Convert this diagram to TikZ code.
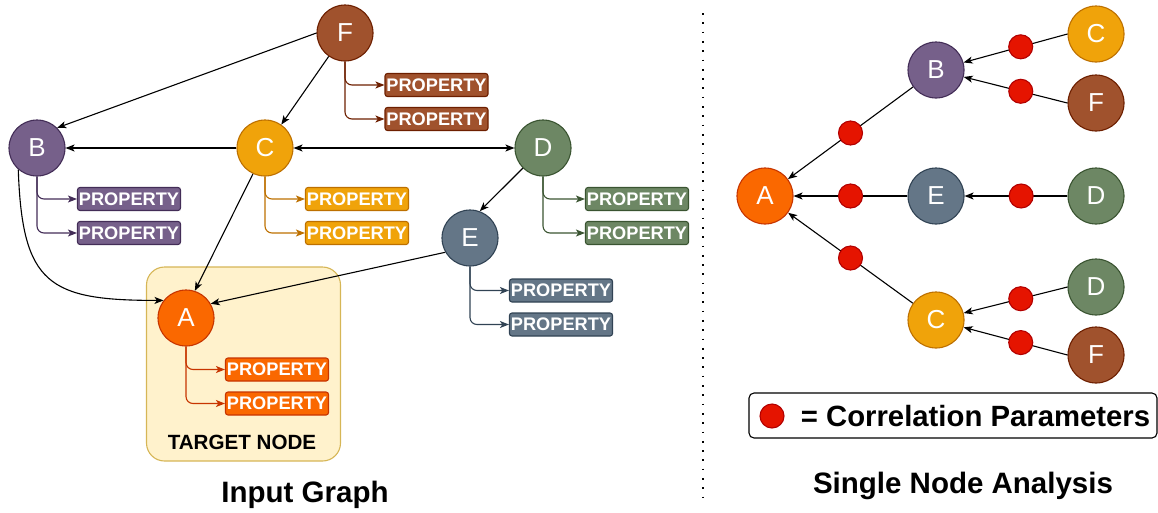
\documentclass[tikz,border=0pt]{standalone}
\usepackage{fontspec}
\setmainfont{Liberation Sans}
\usepackage{tikz}
\usepackage{xcolor}
\usetikzlibrary{arrows.meta, positioning}
\definecolor{fillA}{HTML}{FA6800}\definecolor{lineA}{HTML}{C73500}
\definecolor{fillB}{HTML}{76608A}\definecolor{lineB}{HTML}{432D57}
\definecolor{fillC}{HTML}{F0A30A}\definecolor{lineC}{HTML}{BD7000}
\definecolor{fillD}{HTML}{6D8764}\definecolor{lineD}{HTML}{3A5431}
\definecolor{fillE}{HTML}{647687}\definecolor{lineE}{HTML}{314354}
\definecolor{fillF}{HTML}{A0522D}\definecolor{lineF}{HTML}{6D1F00}
\definecolor{corrFill}{HTML}{E51400}\definecolor{corrLine}{HTML}{B20000}
\definecolor{targetFill}{HTML}{FFF2CC}\definecolor{targetLine}{HTML}{D6B656}

\begin{document}
\begin{tikzpicture}[x=1pt, y=-1pt, on grid, line width=1.1pt,
    >={Stealth[length=9pt, width=7pt, inset=2.3pt]},
    vertex/.style 2 args={circle, draw=#2, fill=#1, minimum size=56pt, inner sep=0pt, text=white, font=\fontsize{26}{26}\selectfont},
    prop/.style 2 args={rectangle, rounded corners=2.5pt, draw=#2, fill=#1, minimum width=103pt, minimum height=23pt, inner sep=0pt, text=white, font=\bfseries\fontsize{18.2}{18.2}\selectfont},
    link/.style={->, draw=#1, rounded corners=7pt},
    corr/.style={circle, draw=corrLine, fill=corrFill, minimum size=24pt, inner sep=0pt},
    title/.style={anchor=base, font=\bfseries\fontsize{29.5}{29.5}\selectfont}]

        \useasboundingbox (0,0) rectangle (1158,512);

        % target area behind A
        \node[rectangle, rounded corners=18pt, draw=targetLine, fill=targetFill, minimum width=194pt, minimum height=194pt] (target) at (243.5,364) {};
        \node[font=\bfseries\fontsize{20.6}{20.6}\selectfont] (targetlabel) at (242,442.5) {TARGET NODE};

        % input graph
        \node[vertex={fillF}{lineF}] (f) at (345,33) {F};
        \node[vertex={fillB}{lineB}] (b) at (37,148) {B};
        \node[vertex={fillC}{lineC}] (c) at (265,148) {C};
        \node[vertex={fillD}{lineD}] (d) at (543,148) {D};
        \node[vertex={fillE}{lineE}] (e) at (470,238) {E};
        \node[vertex={fillA}{lineA}] (a) at (186,318) {A};

        \node[prop={fillF}{lineF}, below right=52pt and 91.5pt of f] (f1) {PROPERTY};
        \node[prop={fillF}{lineF}, below=34pt of f1] (f2) {PROPERTY};
        \node[prop={fillB}{lineB}, below right=51pt and 92pt of b] (b1) {PROPERTY};
        \node[prop={fillB}{lineB}, below=34pt of b1] (b2) {PROPERTY};
        \node[prop={fillC}{lineC}, below right=51pt and 92pt of c] (c1) {PROPERTY};
        \node[prop={fillC}{lineC}, below=34pt of c1] (c2) {PROPERTY};
        \node[prop={fillD}{lineD}, below right=51pt and 94pt of d] (d1) {PROPERTY};
        \node[prop={fillD}{lineD}, below=34pt of d1] (d2) {PROPERTY};
        \node[prop={fillE}{lineE}, below right=52.5pt and 91pt of e] (e1) {PROPERTY};
        \node[prop={fillE}{lineE}, below=34pt of e1] (e2) {PROPERTY};
        \node[prop={fillA}{lineA}, below right=51.5pt and 91pt of a] (a1) {PROPERTY};
        \node[prop={fillA}{lineA}, below=34pt of a1] (a2) {PROPERTY};

        \draw[link=lineF] (f.south) |- (f1.west);
        \draw[link=lineF] (f.south) |- (f2.west);
        \draw[link=lineB] (b.south) |- (b1.west);
        \draw[link=lineB] (b.south) |- (b2.west);
        \draw[link=lineC] (c.south) |- (c1.west);
        \draw[link=lineC] (c.south) |- (c2.west);
        \draw[link=lineD] (d.south) |- (d1.west);
        \draw[link=lineD] (d.south) |- (d2.west);
        \draw[link=lineE] (e.south) |- (e1.west);
        \draw[link=lineE] (e.south) |- (e2.west);
        \draw[link=lineA] (a.south) |- (a1.west);
        \draw[link=lineA] (a.south) |- (a2.west);

        \path[->]
        (f.west) edge[] (b.north east)
        (f) edge[] (c)
        (c) edge[] (b)
        (c) edge[<->, line width=1.4pt] (d)
        (d) edge[] (e.70)
        (e.210) edge[] (a.30)
        (c.245) edge[] (a.72);
        \draw[->] (b.229) .. controls +(4,115) and +(-115,0) .. (a.142);

        \node[title] (lefttitle) at (305,502) {Input Graph};

        % divider
        \coordinate (divtop) at (703,13);
        \coordinate (divbottom) at (703,505);
        \draw[line width=1.7pt, dash pattern=on 1.7pt off 7.6pt] (divtop) -- (divbottom);

        % single node analysis
        \node[vertex={fillA}{lineA}] (sA) at (765,196) {A};
        \node[vertex={fillB}{lineB}] (sB) at (936,70) {B};
        \node[vertex={fillE}{lineE}] (sE) at (936,196) {E};
        \node[vertex={fillC}{lineC}] (sC) at (936,320) {C};
        \node[vertex={fillC}{lineC}] (sBC) at (1096,34) {C};
        \node[vertex={fillF}{lineF}] (sBF) at (1096,103) {F};
        \node[vertex={fillD}{lineD}] (sED) at (1096,196) {D};
        \node[vertex={fillD}{lineD}] (sCD) at (1096,287) {D};
        \node[vertex={fillF}{lineF}] (sCF) at (1096,355) {F};

        \path[->]
        (sB) edge node[corr, pos=.5] (pBA) {} (sA)
        (sE.west) edge node[corr, pos=.5] (pEA) {} (sA)
        (sC) edge node[corr, pos=.5] (pCA) {} (sA)
        (sBC.west) edge node[corr, pos=.45] (pBC) {} (sB)
        (sBF.west) edge node[corr, pos=.45] (pBF) {} (sB)
        (sED.west) edge node[corr, pos=.45] (pED) {} (sE)
        (sCD.west) edge node[corr, pos=.45] (pCD) {} (sC)
        (sCF.west) edge node[corr, pos=.45] (pCF) {} (sC);

        \node[rectangle, rounded corners=5pt, draw, minimum width=408pt, minimum height=45pt] (legend) at (953,415.5) {};
        \node[corr] (key) at (772,416) {};
        \node[anchor=west, font=\bfseries\fontsize{29.3}{29.3}\selectfont] (keytext) at (797,416) {= Correlation Parameters};

        \node[title] (righttitle) at (963,493) {Single Node Analysis};

    \end{tikzpicture}
\end{document}
